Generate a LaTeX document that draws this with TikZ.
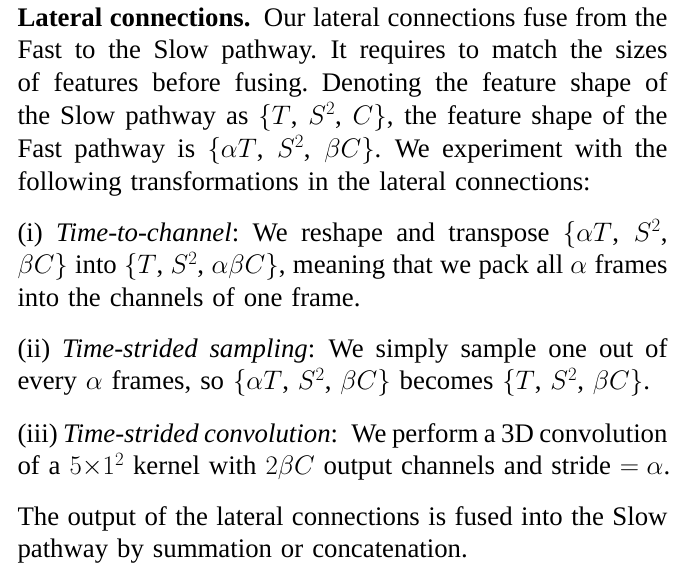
\RequirePackage{fix-cm}
\documentclass[tikz,border=0pt]{standalone}
\usepackage{fontspec}
\setmainfont{Liberation Serif}

\newcommand\parafont{\fontsize{26.8}{32.9}\selectfont}
\newcommand\fullline[1]{\hbox to 650pt{\spaceskip=0.25em plus 0.2em minus 0.12em\relax #1}\par}
\newcommand\lastline[1]{\hbox{#1}\par}

\begin{document}
\begin{tikzpicture}[x = 1pt, y = -1pt, para/.style = {anchor=base west,inner sep=0pt,text width=650pt,font=\parafont},]

		\useasboundingbox (0,0) rectangle (680,570);

		\node[para] (intro) at (17.3,26) {
			\fullline{{\bf Lateral connections.} Our lateral connections fuse from the}
			\fullline{Fast to the Slow pathway. It requires to match the sizes}
			\fullline{of features before fusing. Denoting the feature shape of}
			\fullline{the Slow pathway as $\{T$, $S^2$, $C\}$, the feature shape of the}
			\fullline{Fast pathway is $\{\alpha T$, $S^2$, $\beta C\}$. We experiment with the}
			\lastline{following transformations in the lateral connections:}};
		\node[para] (ttc) at (17.3,241) {
			\fullline{(i) {\it Time-to-channel}: We reshape and transpose $\{\alpha T$, $S^2$,}
			\fullline{$\beta C\}$ into $\{T$, $S^2$, $\alpha\beta C\}$, meaning that we pack all $\alpha$ frames}
			\lastline{into the channels of one frame.}};
		\node[para] (tss) at (17.3,357) {
			\fullline{(ii) {\it Time-strided sampling}: We simply sample one out of}
			\lastline{every $\alpha$ frames, so $\{\alpha T$, $S^2$, $\beta C\}$ becomes $\{T$, $S^2$, $\beta C\}$.}};
		\node[para] (tsc) at (17.3,442) {
			\fullline{(iii) {\it Time-strided convolution}: We perform a 3D convolution}
			\lastline{of a $5{\times}1^2$ kernel with $2\beta C$ output channels and stride $=\alpha$.}};
		\node[para] (out) at (17.3,525) {
			\fullline{The output of the lateral connections is fused into the Slow}
			\lastline{pathway by summation or concatenation.}};

	\end{tikzpicture}
\end{document}
